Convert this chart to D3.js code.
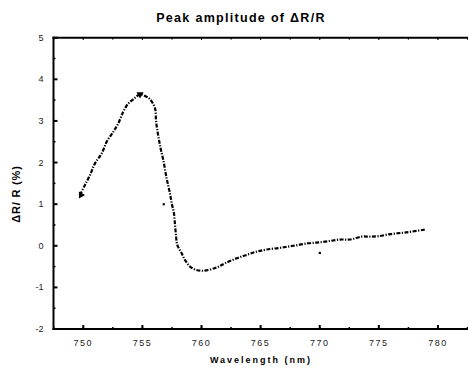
<!DOCTYPE html>
<html><head><meta charset="utf-8">
<script src="https://cdn.jsdelivr.net/npm/d3@7"></script>
<style>body{margin:0;background:#fff}svg{display:block}text{font-family:Arial,"Liberation Sans",sans-serif}</style>
</head><body>
<script>
const wavelength = [749.72,750.14,750.57,750.99,751.56,751.98,752.54,752.96,753.38,753.81,754.23,754.80,755.22,755.64,756.07,756.15,756.26,756.43,756.57,756.77,756.97,757.14,757.33,757.48,757.67,757.76,757.84,757.95,758.32,758.60,759.03,759.45,760.13,761.29,761.99,762.98,763.82,764.67,765.52,766.64,767.77,769.04,769.88,770.73,771.72,772.56,773.55,774.25,774.96,775.95,776.94,777.78,778.91];
const amplitude = [1.22,1.46,1.70,1.98,2.22,2.50,2.74,2.94,3.22,3.42,3.52,3.64,3.60,3.52,3.30,3.02,2.78,2.50,2.30,2.06,1.74,1.50,1.26,1.02,0.78,0.50,0.26,0.02,-0.18,-0.34,-0.50,-0.57,-0.60,-0.52,-0.42,-0.30,-0.22,-0.14,-0.09,-0.05,0.00,0.06,0.08,0.11,0.15,0.15,0.22,0.22,0.23,0.28,0.31,0.34,0.39];
const outlierX = [756.8, 770.0];
const outlierY = [1.0, -0.17];
const xTicks = [750,755,760,765,770,775,780];
const yTicks = [-2,-1,0,1,2,3,4,5];

const W=468,H=374;
const svg=d3.select("body").append("svg").attr("width",W).attr("height",H);
const x=d3.scaleLinear().domain([747.48,782.5]).range([53.5,467.5]);
const y=d3.scaleLinear().domain([-2,5]).range([329,37.7]);

// title
svg.append("text").attr("x",241).attr("y",22).attr("text-anchor","middle")
  .attr("font-size",12.5).attr("font-weight","bold").attr("letter-spacing","1.3px")
  .text("Peak amplitude of ΔR/R");

// bottom axis
const xMinor=d3.range(747.5,783,2.5);
const gx=svg.append("g").attr("transform",`translate(0,${y(-2)})`);
gx.append("line").attr("x1",x.range()[0]-1).attr("x2",W).attr("stroke","#000").attr("stroke-width",2);
gx.selectAll(".mj").data(xTicks).join("line").attr("x1",d=>x(d)).attr("x2",d=>x(d)).attr("y1",0).attr("y2",-4).attr("stroke","#000").attr("stroke-width",2);
gx.selectAll(".mn").data(xMinor).join("line").attr("x1",d=>x(d)).attr("x2",d=>x(d)).attr("y1",0).attr("y2",-2).attr("stroke","#000").attr("stroke-width",1.5);
gx.selectAll(".lb").data(xTicks).join("text").attr("x",d=>x(d)).attr("y",17).attr("text-anchor","middle")
  .attr("font-size",9).attr("letter-spacing","1.5px").attr("fill","#222").text(d=>d);

// top frame
const gt=svg.append("g").attr("transform",`translate(0,${y(5)})`);
gt.append("line").attr("x1",x.range()[0]-1).attr("x2",W).attr("stroke","#000").attr("stroke-width",2);
gt.selectAll(".mn").data(xTicks.concat(xMinor)).join("line").attr("x1",d=>x(d)).attr("x2",d=>x(d)).attr("y1",0).attr("y2",2).attr("stroke","#000").attr("stroke-width",1);

// left axis
const yMinor=d3.range(-1.5,5,1);
const gy=svg.append("g").attr("transform",`translate(${x.range()[0]},0)`);
gy.append("line").attr("y1",y(-2)+1).attr("y2",y(5)-1).attr("stroke","#000").attr("stroke-width",2);
gy.selectAll(".mj").data(yTicks).join("line").attr("y1",d=>y(d)).attr("y2",d=>y(d)).attr("x1",0).attr("x2",4).attr("stroke","#000").attr("stroke-width",2);
gy.selectAll(".mn").data(yMinor).join("line").attr("y1",d=>y(d)).attr("y2",d=>y(d)).attr("x1",0).attr("x2",2).attr("stroke","#000").attr("stroke-width",1.5);
gy.selectAll(".lb").data(yTicks).join("text").attr("x",-10).attr("y",d=>y(d)+3).attr("text-anchor","end")
  .attr("font-size",9).attr("fill","#222").text(d=>d);

// axis titles
svg.append("text").attr("x",261).attr("y",363).attr("text-anchor","middle")
  .attr("font-size",9).attr("font-weight","bold").attr("letter-spacing","2px").text("Wavelength (nm)");
svg.append("text").attr("transform",`translate(20,194) rotate(-90)`).attr("text-anchor","middle")
  .attr("font-size",11).attr("font-weight","bold").attr("letter-spacing","0.8px").text("ΔR/ R (%)");

// curve
const pts=wavelength.map((w,i)=>[w,amplitude[i]]);
const line=d3.line().x(d=>x(d[0])).y(d=>y(d[1])).curve(d3.curveCatmullRom);
svg.append("path").attr("d",line(pts)).attr("fill","none").attr("stroke","#000")
  .attr("stroke-width",2.2).attr("stroke-dasharray","4,1.5,1.2,1.5");

// markers at start and peak
const sym=d3.symbol().type(d3.symbolTriangle).size(22);
svg.append("path").attr("d",sym()).attr("transform",`translate(${x(wavelength[0])+1},${y(amplitude[0])}) rotate(-150)`);
svg.append("path").attr("d",sym()).attr("transform",`translate(${x(wavelength[11])},${y(amplitude[11])}) rotate(-60)`);

// outliers
svg.selectAll(".out").data(outlierX).join("rect").attr("x",(d)=>x(d)-1).attr("y",(d,i)=>y(outlierY[i])-1)
  .attr("width",2.2).attr("height",2.2).attr("fill","#000");
</script>
</body></html>
